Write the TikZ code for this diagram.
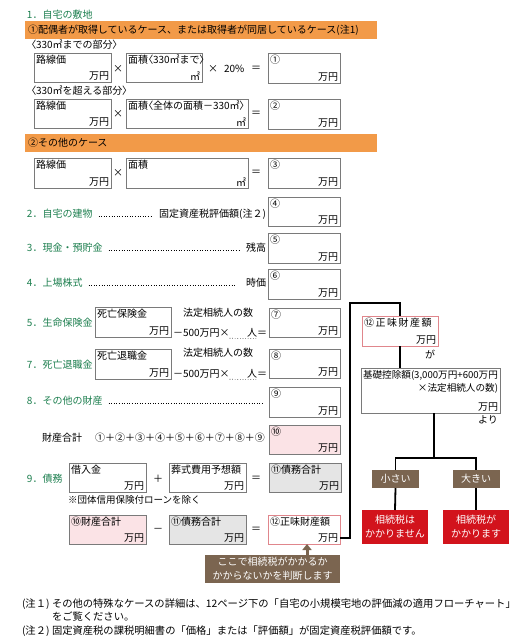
\documentclass[tikz,border=0pt]{standalone}
\usepackage{fontspec}
\setmainfont{Noto Sans CJK JP}
\usetikzlibrary{arrows.meta}
\definecolor{grn}{HTML}{1E8050}
\definecolor{orng}{HTML}{F29A48}
\definecolor{boxgray}{HTML}{7A7A7A}
\definecolor{pinkfill}{HTML}{FBE3E6}
\definecolor{pinkline}{HTML}{E0868C}
\definecolor{grayfill}{HTML}{E5E5E5}
\definecolor{brn}{HTML}{7B6550}
\definecolor{redc}{HTML}{D2131C}
\newcommand\hb[1]{{\addfontfeature{RawFeature=+palt}#1}}
\newcommand\mybox[8][]{%
  \pgfmathsetmacro\mybw{#5-#3}%
  \pgfmathsetmacro\mybh{#6-#4}%
  \node[box,minimum width=\mybw pt,minimum height=\mybh pt,#1] (#2) at ({(#3+#5)/2},{(#4+#6)/2}) {};%
  \node[tl] (#2-t) at (#2.north west) {#7};%
  \node[br] (#2-b) at (#2.south east) {#8};%
}
\begin{document}
\begin{tikzpicture}[x=1pt,y=-1pt,
  font=\fontsize{10}{12}\selectfont,
  every node/.style={inner sep=0pt, outer sep=0pt},
  txt/.style={anchor=west},
  gtxt/.style={anchor=west, text=grn},
  box/.style={draw=boxgray, line width=0.9pt, fill=white},
  tl/.style={anchor=north west, inner sep=2pt},
  br/.style={anchor=south east, inner sep=2pt},
  bar/.style={fill=orng, anchor=north west, minimum width=352pt, minimum height=18pt, text width=346pt, align=left, inner xsep=3pt},
  leader/.style={dotted, line width=0.6pt},
  conn/.style={line width=1.8pt, black},
  note/.style={fill=brn, text=white, align=center},
  small/.style={fill=brn, text=white, minimum width=47pt, minimum height=18pt},
  verdict/.style={fill=redc, text=white, align=center, minimum width=66pt, minimum height=34pt, font=\fontsize{10}{14}\selectfont},
  fnote/.style={anchor=west, font=\fontsize{10.3}{12}\selectfont},
]
\fill[white] (0,0) rectangle (529,643);
\useasboundingbox (0,0) rectangle (529,643);

% 1. home land
\node[gtxt] (h1) at (27,15) {1．自宅の敷地};
\node[bar] (bar1) at (25,21) {①配偶者が取得しているケース、または取得者が同居しているケース(注1)};
\node[txt] (s1) at (31,45) {\hb{〈}330㎡までの部分\hb{〉}};
\mybox{a1}{34}{53}{111}{82}{路線価}{万円}
\node (x1) at (118,69) {×};
\mybox{a2}{126}{53}{202}{82}{面積\hb{〈}330㎡まで\hb{〉}}{㎡}
\node[txt] (p20) at (208,69) {×\hspace{6pt}20\%};
\node (e1) at (256,69) {＝};
\mybox{r1}{268}{53}{340}{83}{①}{万円}

\node[txt] (s2) at (31,91) {\hb{〈}330㎡を超える部分\hb{〉}};
\mybox{b1}{34}{99}{111}{128}{路線価}{万円}
\node (x2) at (118,114) {×};
\mybox{b2}{126}{99}{248}{128}{面積\hb{〈}全体の面積－330㎡\hb{〉}}{㎡}
\node (e2) at (256,114) {＝};
\mybox{r2}{268}{99}{340}{129}{②}{万円}

\node[bar] (bar2) at (25,134) {②その他のケース};
\mybox{c1}{34}{158}{111}{188}{路線価}{万円}
\node (x3) at (118,173) {×};
\mybox{c2}{126}{158}{248}{188}{面積}{㎡}
\node (e3) at (256,173) {＝};
\mybox{r3}{268}{158}{340}{188}{③}{万円}

% 2-4
\node[gtxt] (g2) at (27,214) {2．自宅の建物};
\node[anchor=east] (l2) at (266,214) {固定資産税評価額(注２)};
\draw[leader] ([xshift=6pt,yshift=-2pt]g2.east) -- ([xshift=-7pt,yshift=-2pt]l2.west);
\mybox{r4}{268}{197}{340}{226}{④}{万円}

\node[gtxt] (g3) at (27,248) {3．現金・預貯金};
\node[anchor=east] (l3) at (266,248) {残高};
\draw[leader] ([xshift=6pt,yshift=-2pt]g3.east) -- ([xshift=-5pt,yshift=-2pt]l3.west);
\mybox{r5}{268}{233}{340}{263}{⑤}{万円}

\node[gtxt] (g4) at (27,283) {4．上場株式};
\node[anchor=east] (l4) at (266,283) {時価};
\draw[leader] ([xshift=6pt,yshift=-2pt]g4.east) -- ([xshift=-10pt,yshift=-2pt]l4.west);
\mybox{r6}{268}{269}{340}{299}{⑥}{万円}

% 5 insurance
\node[gtxt] (g5) at (27,323) {5．生命保険金};
\mybox{d1}{95}{307}{171}{337}{死亡保険金}{万円}
\node[txt] (n5) at (183,313) {法定相続人の数};
\node[txt] (m5) at (173,333) {－500万円×};
\node[anchor=east] (q5) at (267,333) {人＝};
\draw[leader] ([yshift=-1pt]m5.south east) -- ([xshift=-11pt,yshift=-1pt]q5.south east);
\mybox{r7}{269}{308}{340}{337}{⑦}{万円}

% 7 retirement
\node[gtxt] (g7) at (27,365) {7．死亡退職金};
\mybox{d2}{95}{349}{171}{379}{死亡退職金}{万円}
\node[txt] (n7) at (183,353) {法定相続人の数};
\node[txt] (m7) at (173,374) {－500万円×};
\node[anchor=east] (q7) at (267,374) {人＝};
\draw[leader] ([yshift=-1pt]m7.south east) -- ([xshift=-11pt,yshift=-1pt]q7.south east);
\mybox{r8}{269}{349}{340}{378}{⑧}{万円}

% 8 other
\node[gtxt] (g8) at (27,401) {8．その他の財産};
\mybox{r9}{269}{387}{340}{417}{⑨}{万円}
\draw[leader] ([xshift=6pt,yshift=-2pt]g8.east) -- ([xshift=-6pt,yshift=-2pt]g8.east -| r9.west);

% total
\node[txt] (tot) at (42,438) {財産合計};
\node[txt] (frm) at (95,438) {①＋②＋③＋④＋⑤＋⑥＋⑦＋⑧＋⑨};
\mybox[fill=pinkfill]{r10}{269}{425}{340}{454}{⑩}{万円}

% 9 debts
\node[gtxt] (g9) at (27,479) {9．債務};
\mybox{f1}{69}{463}{146}{492}{借入金}{万円}
\node (pl) at (158,479) {＋};
\mybox{f2}{169}{463}{246}{492}{葬式費用予想額}{万円}
\node (e9) at (256,479) {＝};
\mybox[fill=grayfill]{r11}{269}{463}{341}{492}{⑪債務合計}{万円}
\node[txt, font=\fontsize{9.5}{11}\selectfont] (ex) at (68,500) {※団体信用保険付ローンを除く};

% net
\mybox[fill=pinkfill]{h10}{69}{515}{146}{544}{⑩財産合計}{万円}
\node (mn) at (158,530) {－};
\mybox[fill=grayfill]{h11}{169}{515}{246}{544}{⑪債務合計}{万円}
\node (e10) at (256,530) {＝};
\mybox[draw=pinkline]{h12}{268}{515}{340}{544}{⑫正味財産額}{万円}

\node[note, minimum width=135pt, minimum height=28pt, anchor=north west, font=\fontsize{10}{14}\selectfont] (note) at (205,555) {ここで相続税がかかるか\\かからないかを判断します};
\draw[brn, line width=3pt, -{Triangle[width=9pt,length=6pt]}] ([xshift=34.5pt]note.north) -- ([xshift=3pt]h12.south);

% right flow
\mybox[draw=pinkline]{q12}{362}{316}{438}{346}{⑫\kern1.5pt 正\kern1.5pt 味\kern1.5pt 財\kern1.5pt 産\kern1.5pt 額}{万円}
\coordinate (k1) at (350,303);
\draw[conn] ([yshift=6pt]h12.south east) -| (k1) -| (q12.north);
\node (ga) at (430,354) {が};
\mybox{kiso}{361}{368}{500}{413}{\fontsize{9.6}{11}\selectfont 基礎控除額(3,000万円+600万円}{万円}
\node[anchor=north east, inner sep=2pt, font=\fontsize{9.6}{11}\selectfont] (kiso-t2) at ([yshift=-13pt]kiso.north east) {×法定相続人の数)};
\draw[conn] (q12.south) -- (q12.south |- kiso.north);
\node (yori) at (488,420) {より};
\coordinate (j) at (434,458);
\draw[conn] (j |- kiso.south) -- (j);
\node[small] (sm) at (395.5,479) {小さい};
\node[small] (lg) at (476,479) {大きい};
\draw[conn] (sm.north) |- (j) -| (lg.north);
\node[verdict] (v1) at (395,527) {相続税は\\かかりません};
\node[verdict] (v2) at (476,527) {相続税が\\かかります};
\draw[conn] (sm.south) -- (v1.north);
\draw[conn] (lg.south) -- (v2.north);

% footnotes
\node[fnote] (fn1) at (22,604) {(注１)};
\node[fnote] (fn1t) at (52,604) {その他の特殊なケースの詳細は、12ページ下の「自宅の小規模宅地の評価減の適用フローチャート」};
\node[fnote] (fn1u) at (52,617) {をご覧ください。};
\node[fnote] (fn2) at (22,631) {(注２)};
\node[fnote] (fn2t) at (52,631) {固定資産税の課税明細書の「価格」または「評価額」が固定資産税評価額です。};
\end{tikzpicture}
\end{document}
